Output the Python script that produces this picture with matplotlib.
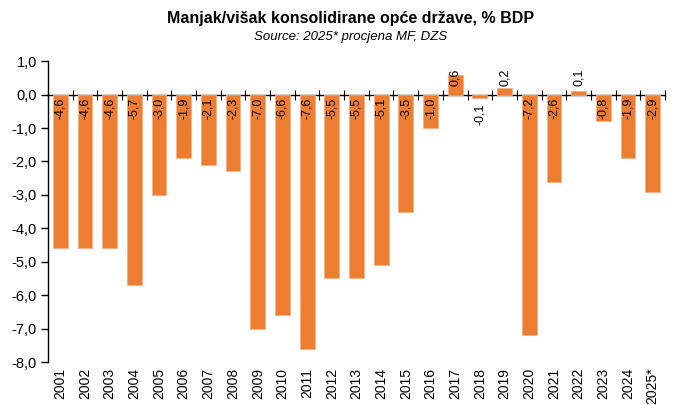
import numpy as np
import matplotlib; matplotlib.use("Agg")
import matplotlib.pyplot as plt

plt.rcParams["font.family"] = ["Liberation Sans", "DejaVu Sans"]

years = ["2001","2002","2003","2004","2005","2006","2007","2008","2009","2010",
         "2011","2012","2013","2014","2015","2016","2017","2018","2019","2020",
         "2021","2022","2023","2024","2025*"]
balance = [-4.6,-4.6,-4.6,-5.7,-3.0,-1.9,-2.1,-2.3,-7.0,-6.6,
           -7.6,-5.5,-5.5,-5.1,-3.5,-1.0,0.6,-0.1,0.2,-7.2,
           -2.6,0.1,-0.8,-1.9,-2.9]
yticks = [1.0,0.0,-1.0,-2.0,-3.0,-4.0,-5.0,-6.0,-7.0,-8.0]

ORANGE = "#ED7D31"
fmt = lambda v: f"{v:.1f}".replace(".", ",")

fig = plt.figure(figsize=(6.74, 4.05), dpi=100)
ax = fig.add_axes([0.0712, 0.106, 0.9154, 0.743])
x = np.arange(len(years))
ax.bar(x, balance, width=0.6, color=ORANGE, edgecolor="#F4B183", linewidth=0.6, zorder=2)

ax.set_ylim(-8, 1)
ax.set_xlim(-0.5, len(years) - 0.5)
ax.set_yticks(yticks)
ax.set_yticklabels([fmt(v) for v in yticks], fontsize=10.5)
ax.set_xticks(x)
ax.set_xticklabels(years, rotation=90, fontsize=10)
ax.tick_params(axis="x", length=0, pad=4)
ax.tick_params(axis="y", direction="out", length=5, width=1, pad=3)
for s in ("top", "right", "bottom"):
    ax.spines[s].set_visible(False)
ax.spines["left"].set_linewidth(1)

# zero line with category-boundary ticks
zpos = (0 - (-8)) / 9
sec = ax.secondary_xaxis(zpos)
sec.set_xticks(np.arange(-0.5, len(years), 1.0))
sec.set_xticklabels([])
sec.tick_params(direction="inout", length=7, width=0.8)
sec.spines["bottom"].set_linewidth(1)
sec.spines["top"].set_linewidth(1)

for xi, v in zip(x, balance):
    if v >= 0:
        ax.annotate(fmt(v), (xi, 0), xytext=(0, 9), textcoords="offset pixels",
                    rotation=90, ha="center", va="bottom", fontsize=9, zorder=3)
    else:
        off = 9 if abs(v) < 0.5 else 3
        ax.annotate(fmt(v), (xi, 0), xytext=(0, -off), textcoords="offset pixels",
                    rotation=90, ha="center", va="top", fontsize=9, zorder=3)

fig.text(0.52, 0.955, "Manjak/višak konsolidirane opće države, % BDP",
         ha="center", va="center", fontsize=11.5, fontweight="bold")
fig.text(0.52, 0.908, "Source: 2025* procjena MF, DZS",
         ha="center", va="center", fontsize=9.5, style="italic")

fig.savefig("out.png", dpi=100)
